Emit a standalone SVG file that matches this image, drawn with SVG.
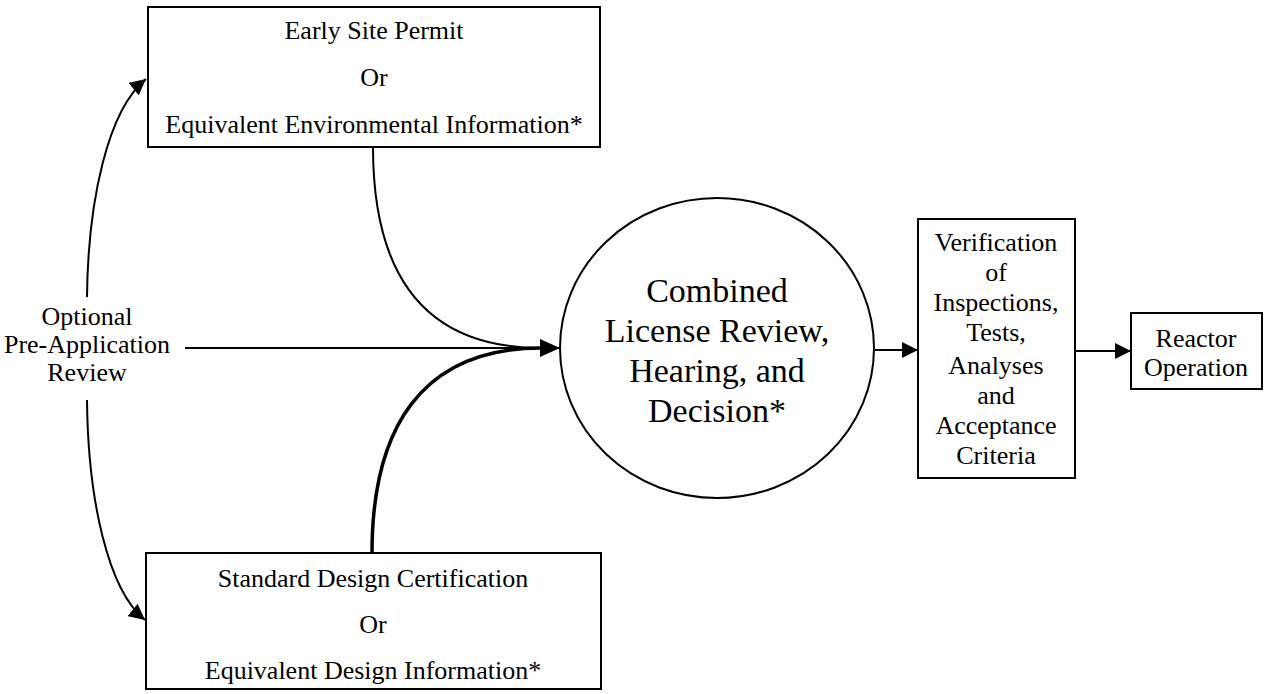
<svg xmlns="http://www.w3.org/2000/svg" width="1264" height="694" viewBox="0 0 1264 694">
  <style>
    .box { fill: #fff; stroke: #000; stroke-width: 2; }
    .t { font-family: "Liberation Serif", "Times New Roman", serif; font-size: 26px; fill: #000; text-anchor: middle; }
    .big { font-size: 34px; }
    .edge { fill: none; stroke: #000; stroke-width: 2; }
    .heavy { stroke-width: 3.5; }
  </style>
  <defs>
    <marker id="arrow" markerUnits="userSpaceOnUse" markerWidth="22" markerHeight="18" refX="20" refY="9" orient="auto">
      <path d="M0,0 L20,9 L0,18 z" fill="#000"/>
    </marker>
    <marker id="arrowSmall" markerUnits="userSpaceOnUse" markerWidth="18" markerHeight="16" refX="16" refY="8" orient="auto">
      <path d="M0,0 L16,8 L0,16 z" fill="#000"/>
    </marker>
  </defs>

  <rect width="1264" height="694" fill="#fff"/>

  <!-- connectors -->
  <g id="connectors">
    <path class="edge" d="M87,297 C88,200 108,110 146,79" marker-end="url(#arrowSmall)"/>
    <path class="edge" d="M87,400 C88,500 108,590 145,620" marker-end="url(#arrowSmall)"/>
    <path class="edge" d="M373,147 C373,270 420,348 541,348"/>
    <path class="edge heavy" d="M372,553 C372,430 420,348 541,348"/>
    <path class="edge" d="M185,348 L560,348" marker-end="url(#arrow)"/>
    <path class="edge" d="M875,350 L918,350" marker-end="url(#arrowSmall)"/>
    <path class="edge" d="M1075,351 L1131,351" marker-end="url(#arrowSmall)"/>
  </g>

  <g id="early-site-permit">
    <rect class="box" x="148" y="7" width="452" height="140"/>
    <text class="t" x="374" y="39">Early Site Permit</text>
    <text class="t" x="374" y="86">Or</text>
    <text class="t" x="374" y="133">Equivalent Environmental Information*</text>
  </g>

  <g id="design-certification">
    <rect class="box" x="146" y="553" width="455" height="136"/>
    <text class="t" x="373" y="587">Standard Design Certification</text>
    <text class="t" x="373" y="633">Or</text>
    <text class="t" x="373" y="679">Equivalent Design Information*</text>
  </g>

  <g id="pre-application">
    <text class="t" x="87" y="325">Optional</text>
    <text class="t" x="87" y="353">Pre-Application</text>
    <text class="t" x="87" y="381">Review</text>
  </g>

  <g id="combined-license">
    <ellipse class="box" cx="717" cy="348" rx="157" ry="150"/>
    <text class="t big" x="717" y="302">Combined</text>
    <text class="t big" x="717" y="342">License Review,</text>
    <text class="t big" x="717" y="382">Hearing, and</text>
    <text class="t big" x="717" y="422">Decision*</text>
  </g>

  <g id="itaac">
    <rect class="box" x="918" y="219" width="157" height="259"/>
    <text class="t" x="996" y="251">Verification</text>
    <text class="t" x="996" y="281">of</text>
    <text class="t" x="996" y="311">Inspections,</text>
    <text class="t" x="996" y="341">Tests,</text>
    <text class="t" x="996" y="374">Analyses</text>
    <text class="t" x="996" y="404">and</text>
    <text class="t" x="996" y="434">Acceptance</text>
    <text class="t" x="996" y="464">Criteria</text>
  </g>

  <g id="reactor-operation">
    <rect class="box" x="1131" y="313" width="131" height="76"/>
    <text class="t" x="1196" y="347">Reactor</text>
    <text class="t" x="1196" y="376">Operation</text>
  </g>
</svg>
